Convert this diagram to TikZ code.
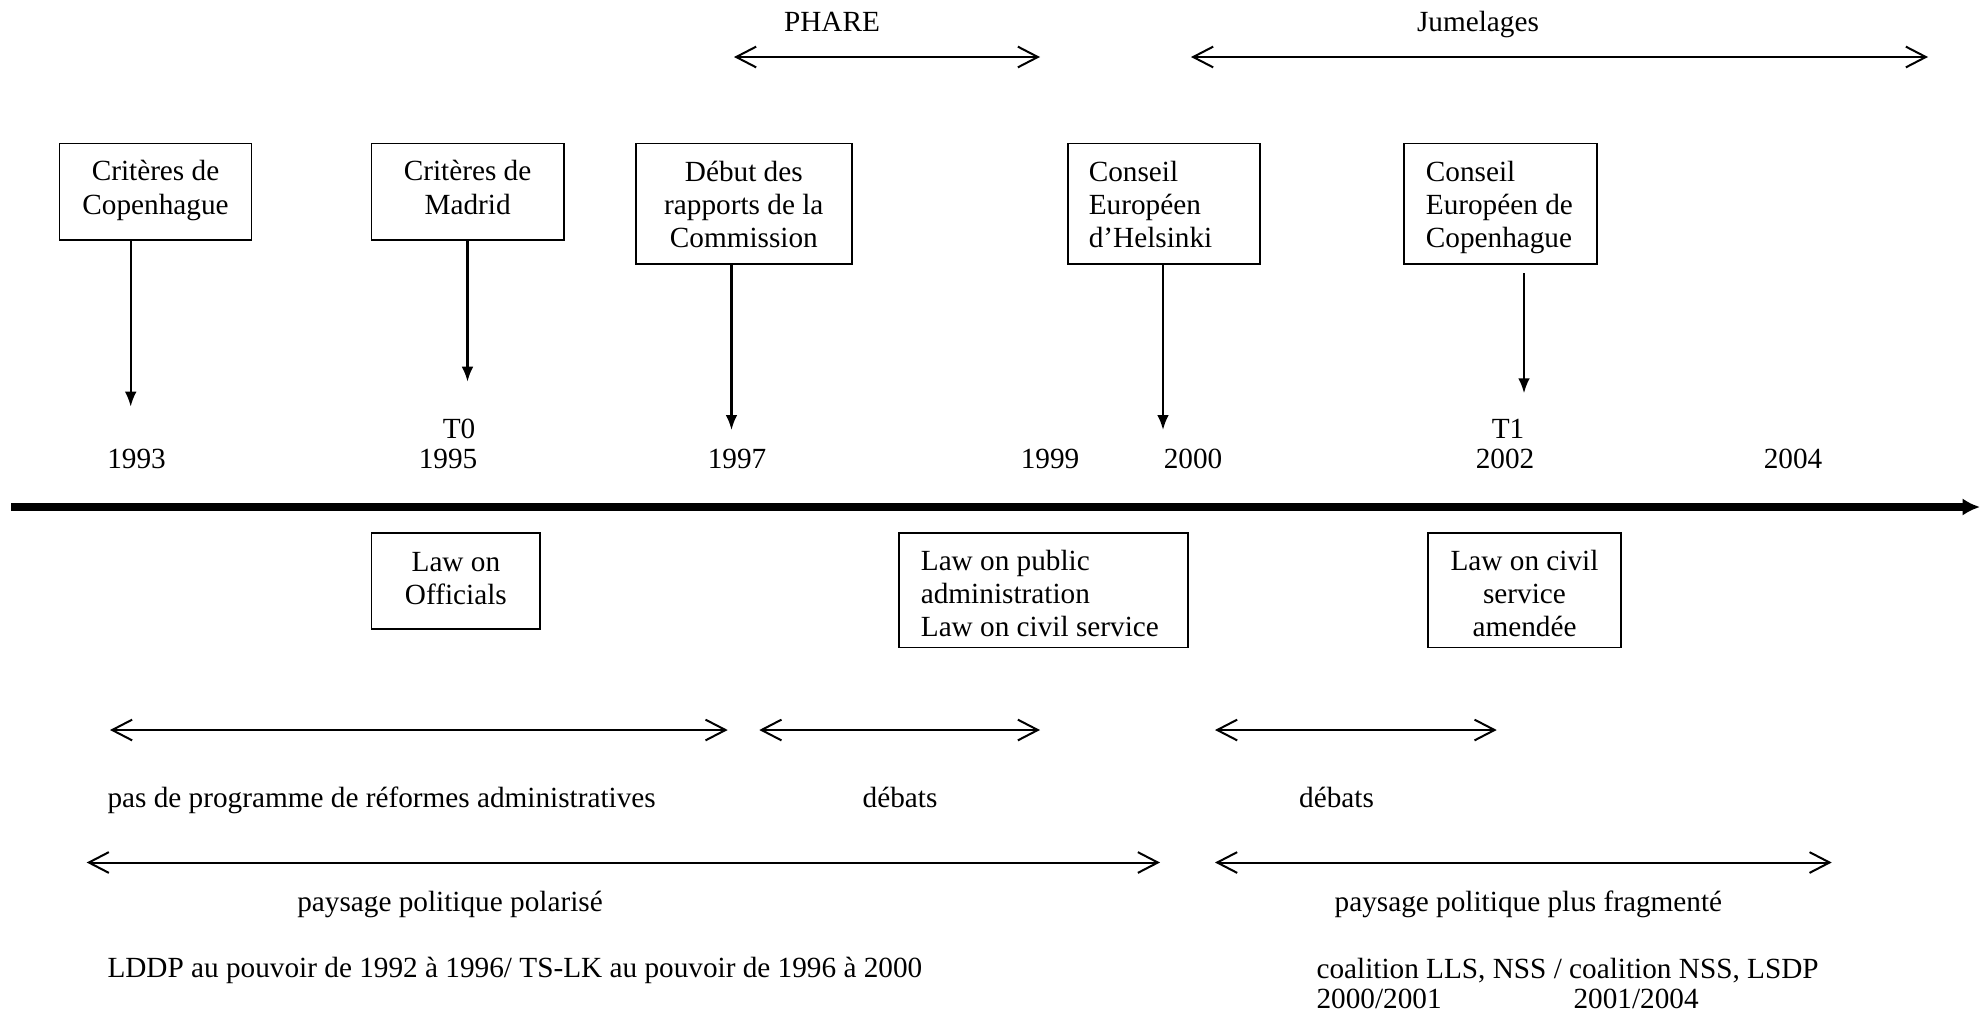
\documentclass[tikz,border=0pt]{standalone}
\usepackage{fontspec}
\setmainfont{Liberation Serif}
\usetikzlibrary{arrows.meta}
\begin{document}
\begin{tikzpicture}[x=0.4pt,y=-0.4pt,
  every node/.style={font=\fontsize{11.7}{13.3}\selectfont, inner sep=0pt},
  boxc/.style={draw, line width=0.65pt, align=center, anchor=north west},
  boxl/.style={draw, line width=0.65pt, align=left, anchor=north west},
  vdown/.style={line width=0.9pt, -{Latex[length=6pt,width=4.7pt]}},
  span/.style={line width=0.8pt, {Straight Barb[length=8pt,width=8.3pt]}-{Straight Barb[length=8pt,width=8.3pt]}},
  axis/.style={line width=3pt, -{Latex[length=7pt,width=7pt]}},
  lbl/.style={anchor=base}
]
\useasboundingbox (0,0) rectangle (1984,1014);

% top spans
\coordinate (ph1) at (734,57);
\coordinate (ph2) at (1040,57);
\coordinate (ju1) at (1191,57);
\coordinate (ju2) at (1928,57);
\draw[span] (ph1) -- (ph2);
\draw[span] (ju1) -- (ju2);
\node[lbl] (phare) at (832,31.7) {PHARE};
\node[lbl] (jum) at (1478,31.7) {Jumelages};

% top boxes (text height = top to last baseline, text depth = last baseline to bottom)
\node[boxc, minimum width=76.8pt, text height=28.2pt, text depth=10.3pt] (b1) at (58.7,142.7) {Critères de\\Copenhague};
\node[boxc, minimum width=77pt, text height=28.2pt, text depth=10.3pt] (b2) at (370.5,142.7) {Critères de\\Madrid};
\node[boxc, minimum width=86.4pt, text height=41.6pt, text depth=6.6pt] (b3) at (635,142.7) {Début des\\rapports de la\\Commission};
\node[boxl, inner xsep=8.4pt, text height=41.6pt, text depth=6.6pt] (b4) at (1067,142.7) {\makebox[60pt][l]{Conseil}\\Européen\\d’Helsinki};
\node[boxl, inner xsep=8.7pt, text height=41.6pt, text depth=6.6pt] (b5) at (1403.3,142.7) {\makebox[59.7pt][l]{Conseil}\\Européen de\\Copenhague};

% vertical arrows
\coordinate (t1) at (130.7,406.7);
\coordinate (t2) at (467.5,381.7);
\coordinate (t3) at (731.5,430);
\coordinate (t4) at (1163,430);
\coordinate (t5) at (1524,393.3);
\coordinate (s5) at (1524,273.3);
\draw[vdown] (b1.south -| t1) -- (t1);
\draw[vdown] (b2.south -| t2) -- (t2);
\draw[vdown] (b3.south -| t3) -- (t3);
\draw[vdown] (b4.south -| t4) -- (t4);
\draw[vdown] (s5) -- (t5);

% year labels
\node[lbl] (y93) at (136.5,468) {1993};
\node[lbl] (t0) at (459,438) {T0};
\node[lbl] (y95) at (448,468) {1995};
\node[lbl] (y97) at (737,468) {1997};
\node[lbl] (y99) at (1050,468) {1999};
\node[lbl] (y00) at (1193,468) {2000};
\node[lbl] (tt1) at (1508,438) {T1};
\node[lbl] (y02) at (1505,468) {2002};
\node[lbl] (y04) at (1793,468) {2004};

% axis
\coordinate (ax1) at (11,507);
\coordinate (ax2) at (1980,507);
\draw[axis] (ax1) -- (ax2);

% lower boxes
\node[boxc, minimum width=67.5pt, text height=28.7pt, text depth=9.7pt] (l1) at (370.7,532.3) {Law on\\Officials};
\node[boxl, inner xsep=8.7pt, text height=41.5pt, text depth=4.3pt] (l2) at (898.3,532.3) {\makebox[98.2pt][l]{Law on public}\\administration\\Law on civil service};
\node[boxc, minimum width=77.1pt, text height=41.5pt, text depth=4.3pt] (l3) at (1427.3,532.3) {Law on civil\\service\\amendée};

% lower spans
\coordinate (r1a) at (110,730);
\coordinate (r1b) at (727.7,730);
\coordinate (r1c) at (759.3,730);
\coordinate (r1d) at (1040,730);
\coordinate (r1e) at (1215,730);
\coordinate (r1f) at (1496.7,730);
\draw[span] (r1a) -- (r1b);
\draw[span] (r1c) -- (r1d);
\draw[span] (r1e) -- (r1f);
\coordinate (r2a) at (86.7,862.5);
\coordinate (r2b) at (1160,862.5);
\coordinate (r2c) at (1215,862.5);
\coordinate (r2d) at (1831.7,862.5);
\draw[span] (r2a) -- (r2b);
\draw[span] (r2c) -- (r2d);

% lower texts
\node[anchor=base west] (pas) at (107,807) {pas de programme de réformes administratives};
\node[lbl] (deb1) at (900,807) {débats};
\node[lbl] (deb2) at (1336.5,807) {débats};
\node[lbl] (pol1) at (450,911.7) {paysage politique polarisé};
\node[lbl] (pol2) at (1528.4,911.7) {paysage politique plus fragmenté};
\node[anchor=base west] (lddp) at (107,977.5) {LDDP au pouvoir de 1992 à 1996/ TS-LK au pouvoir de 1996 à 2000};
\node[anchor=base west, align=left, font=\fontsize{11.7}{12}\selectfont] (coal) at (1316,1008) {coalition LLS, NSS / coalition NSS, LSDP\\\makebox[102.8pt][l]{2000/2001}2001/2004};
\end{tikzpicture}
\end{document}
